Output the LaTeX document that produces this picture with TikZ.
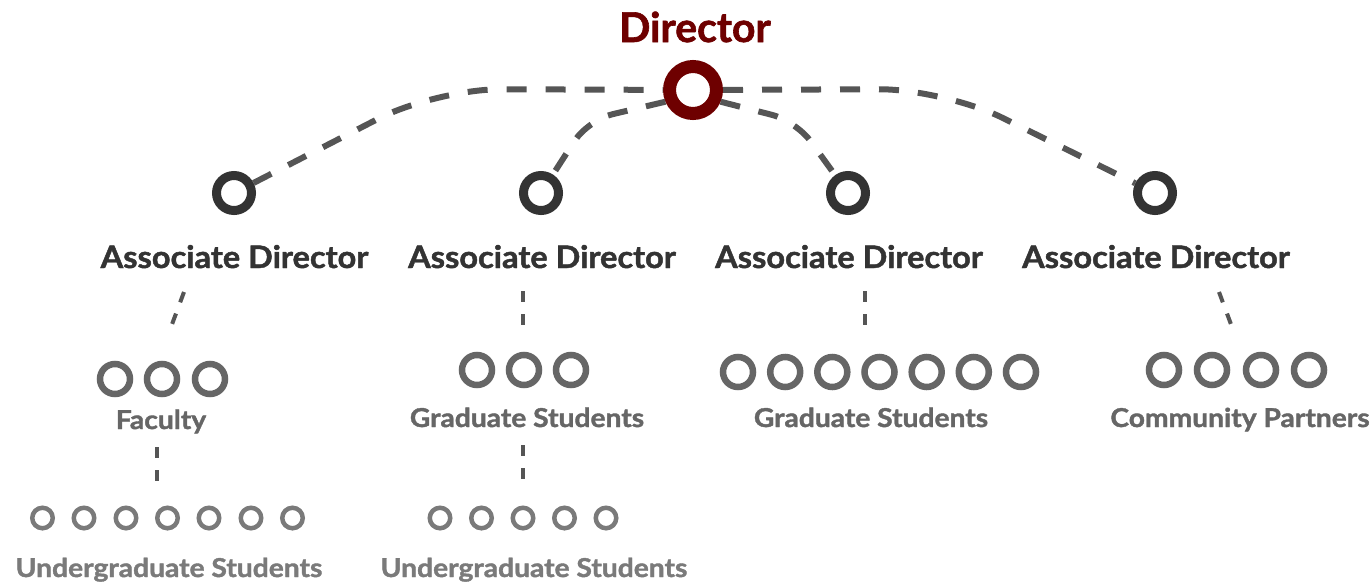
\documentclass[tikz,border=0pt]{standalone}
\usepackage{fontspec}
\setmainfont{Lato}[BoldFeatures={FakeBold=1.5}]
\newfontfamily\adfont{Lato}[FakeStretch=1.05,BoldFeatures={FakeBold=1.5}]
\newfontfamily\grpfont{Lato}[FakeStretch=1.085,BoldFeatures={FakeBold=1.5}]
\definecolor{dirred}{HTML}{6E0000}
\definecolor{adgray}{HTML}{333333}
\definecolor{conngray}{HTML}{555555}
\definecolor{grpgray}{HTML}{666666}
\definecolor{uggray}{HTML}{7A7A7A}
\begin{document}
\begin{tikzpicture}[x=1pt,y=-1pt,
  dirc/.style={circle,draw=dirred,line width=13pt,minimum size=47pt,inner sep=0pt},
  adc/.style={circle,draw=adgray,line width=9pt,minimum size=35pt,inner sep=0pt},
  grpc/.style={circle,draw=grpgray,line width=6.5pt,minimum size=30pt,inner sep=0pt},
  ugc/.style={circle,draw=uggray,line width=4.5pt,minimum size=20.5pt,inner sep=0pt},
  dirlbl/.style={font=\bfseries\fontsize{41}{41}\selectfont,text=dirred,inner sep=0pt,anchor=base},
  adlbl/.style={font=\adfont\bfseries\fontsize{31}{31}\selectfont,text=adgray,inner sep=0pt,anchor=base},
  grplbl/.style={font=\grpfont\bfseries\fontsize{26}{26}\selectfont,text=grpgray,inner sep=0pt,anchor=base},
  uglbl/.style={font=\grpfont\bfseries\fontsize{26}{26}\selectfont,text=uggray,inner sep=0pt,anchor=base},
  topconn/.style={draw=conngray,line width=6pt,dash pattern=on 20pt off 19pt},
  subconn/.style={draw=conngray,line width=4pt,dash pattern=on 11pt off 12pt}]
\useasboundingbox (0,0) rectangle (1371,584);

% Director
\node[dirlbl] (dirt) at (695,42) {Director};
\node[dirc] (dir) at (693,90) {};

% Associate directors
\foreach \i/\x in {1/234,2/541,3/848,4/1155}{
  \node[adc] (ad\i) at (\x,193) {};
}
\node[adlbl] (adt1) at (234.5,268) {Associate Director};
\node[adlbl] (adt2) at (542,268) {Associate Director};
\node[adlbl] (adt3) at (849,268) {Associate Director};
\node[adlbl] (adt4) at (1156,268) {Associate Director};

% top connectors
\coordinate (cl) at (436,89);
\coordinate (cr) at (944,89);
\coordinate (il) at (588,120);
\coordinate (ir) at (796,121);
\draw[topconn,rounded corners=65pt] (ad1) -- (cl) -- (dir);
\draw[topconn,rounded corners=65pt] (dir) -- (cr) -- (ad4);
\draw[topconn,rounded corners=25pt] (dir.203) -- (il) -- (ad2);
\draw[topconn,rounded corners=25pt] (dir.337) -- (ir) -- (ad3);

% groups
\foreach \x [count=\k] in {115,162,210}{ \node[grpc] (fac\k) at (\x,379) {}; }
\node[grplbl] (fact) at (161,429) {Faculty};
\foreach \x [count=\k] in {42.5,84,126,167.5,209,251,292.5}{ \node[ugc] (ua\k) at (\x,518) {}; }
\node[uglbl] (uat) at (169,577) {Undergraduate Students};

\foreach \x [count=\k] in {477,524,571}{ \node[grpc] (gb\k) at (\x,370) {}; }
\node[grplbl] (gbt) at (527,427) {Graduate Students};
\foreach \x [count=\k] in {440,481.5,523,564.5,606}{ \node[ugc] (ub\k) at (\x,518) {}; }
\node[uglbl] (ubt) at (534,577) {Undergraduate Students};

\foreach \x [count=\k] in {738,785.2,832.3,879.5,926.7,973.8,1021}{ \node[grpc] (gc\k) at (\x,372) {}; }
\node[grplbl] (gct) at (871,427) {Graduate Students};

\foreach \x [count=\k] in {1164,1212,1261,1309}{ \node[grpc] (cp\k) at (\x,370) {}; }
\node[grplbl] (cpt) at (1240,427) {Community Partners};

% sub connectors
\coordinate (s1a) at (184,292); \coordinate (s1b) at (171,327);
\coordinate (s2a) at (523,291); \coordinate (s2b) at (523,328);
\coordinate (s3a) at (865,291); \coordinate (s3b) at (865,327);
\coordinate (s4a) at (1219,292); \coordinate (s4b) at (1232,327);
\coordinate (s5a) at (157,447); \coordinate (s5b) at (157,482);
\coordinate (s6a) at (523,445); \coordinate (s6b) at (523,482);
\foreach \j in {1,...,6}{ \draw[subconn] (s\j a) -- (s\j b); }
\end{tikzpicture}
\end{document}
